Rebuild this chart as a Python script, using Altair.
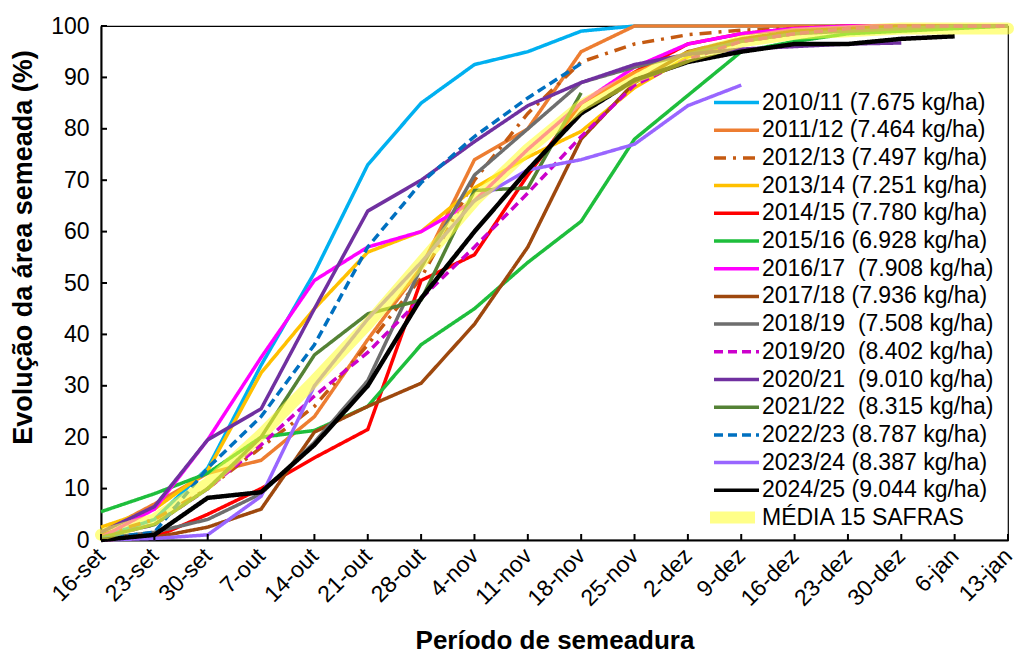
import altair as alt
import pandas as pd

# Semanas de semeadura (eixo X)
periodos = ["16-set", "23-set", "30-set", "7-out", "14-out", "21-out", "28-out",
            "4-nov", "11-nov", "18-nov", "25-nov", "2-dez", "9-dez", "16-dez",
            "23-dez", "30-dez", "6-jan", "13-jan"]

# Rótulos das safras (com produtividade média)
safras = ["2010/11 (7.675 kg/ha)", "2011/12 (7.464 kg/ha)", "2012/13 (7.497 kg/ha)",
          "2013/14 (7.251 kg/ha)", "2014/15 (7.780 kg/ha)", "2015/16 (6.928 kg/ha)",
          "2016/17\u00a0 (7.908 kg/ha)", "2017/18 (7.936 kg/ha)", "2018/19\u00a0 (7.508 kg/ha)",
          "2019/20\u00a0 (8.402 kg/ha)", "2020/21\u00a0 (9.010 kg/ha)", "2021/22\u00a0 (8.315 kg/ha)",
          "2022/23 (8.787 kg/ha)", "2023/24 (8.387 kg/ha)", "2024/25 (9.044 kg/ha)"]
rotulo_media = "MÉDIA 15 SAFRAS"

# Percentual acumulado da área semeada por safra (None = sem registro)
s2010_11 = [0.5, 4, 14, 34, 52, 73, 85, 92.5, 95, 99, 100, 100, 100, 100, 100, 100, 100, 100]
s2011_12 = [1.5, 7, 13, 15.5, 24, 39, 53, 74, 80, 95, 100, 100, 100, 100, 100, 100, 100, 100]
s2012_13 = [1, 4, 10, 18, 26, 38, 51, 70, 83, 93, 96.5, 98.3, 99.2, 99.5, 99.7, 99.8, 100, 100]
s2013_14 = [2.5, 6, 13.5, 32.5, 45, 56, 60, 68.5, 74.5, 79.5, 88, 94, 97, 98.5, 99.5, 100, 100, 100]
s2014_15 = [0, 0.5, 5, 10, 16, 21.5, 50.5, 55.5, 71, 85, 91, 96.5, 98.5, 99.5, 100, 100, 100, 100]
s2015_16 = [5.5, 9, 13, 20, 21.3, 26, 38, 45, 54, 62, 78, 86.5, 95, 97, 98.5, 99, 99.5, 100]
s2016_17 = [0.5, 6, 19.5, 35.5, 50.5, 57, 60, 66, 76, 85, 92, 96.5, 98.5, 99.5, 100, 100, 100, 100]
s2017_18 = [0, 0.5, 2.5, 6, 21, 26, 30.5, 42, 57, 78, 89, 95, 97.5, 99, 99.5, 100, 100, 100]
s2018_19 = [0.3, 1.5, 4, 9, 19, 31, 53, 71, 80, 89, 92, 94.5, 97, 98.5, 99, 99.5, 100, 100]
s2019_20 = [0.5, 3, 10, 18.5, 28, 36.5, 47, 57, 67.5, 78.5, 88.5, 93.5, 97, 98.5, 99.5, 100, 100, 100]
s2020_21 = [1.5, 6.5, 19.5, 25.5, 45, 64, 70, 77.5, 84.5, 89, 92.5, 94.5, 95.5, 96, 96.5, 96.7, None, None]
s2021_22 = [0.5, 3, 10, 20, 36, 44, 46.7, 68, 68.5, 87, None, None, None, None, None, None, None, None]
s2022_23 = [0.3, 1.5, 14, 24, 38, 57, 69.5, 78.5, 86, 92.7, None, None, None, None, None, None, None, None]
s2023_24 = [0, 0.3, 1, 8.5, 30, 43, 54, 66, 72, 74, 77, 84.5, 88.5, None, None, None, None, None]
s2024_25 = [0, 1, 8.2, 9.3, 18.5, 30, 47, 60, 72, 83, 89.5, 93, 95, 96.5, 96.5, 97.5, 98, None]
media_15 = [1, 4, 11, 20.5, 31, 42, 54, 66, 76, 84.5, 90, 94, 97, 98.5, 99, 99.5, 99.5, 99.5]

series = [s2010_11, s2011_12, s2012_13, s2013_14, s2014_15, s2015_16, s2016_17, s2017_18,
          s2018_19, s2019_20, s2020_21, s2021_22, s2022_23, s2023_24, s2024_25]

cores = ["#00B0F0", "#ED7D31", "#C55A11", "#FFC000", "#FF0000", "#1EBE3C", "#FF00FF",
         "#9E480E", "#6E6E6E", "#CC00CC", "#7030A0", "#548235", "#0070C0", "#9966FF",
         "#000000"]
tracos = [[1, 0], [1, 0], [12, 7, 3, 7], [1, 0], [1, 0], [1, 0], [1, 0], [1, 0], [1, 0],
          [9, 5], [1, 0], [1, 0], [9, 5], [1, 0], [1, 0]]
espessuras = [3.5] * 14 + [4.5]
cor_media = "#FFFF3A"

linhas = []
for nome, vals, esp in zip(safras, series, espessuras):
    for i, (p, v) in enumerate(zip(periodos, vals)):
        if v is not None:
            linhas.append({"safra": nome, "periodo": p, "ordem": i, "valor": v, "esp": esp})
df = pd.DataFrame(linhas)

df_media = pd.DataFrame({"rotulo": rotulo_media, "periodo": periodos,
                         "ordem": list(range(len(periodos))), "valor": media_15})

y_ticks = list(range(0, 101, 10))

FONTE = "Liberation Sans"
escala_x = alt.Scale(type="point", domain=periodos, padding=0)

x_enc = alt.X(
    "periodo:N", sort=periodos, scale=escala_x,
    title="Período de semeadura",
    axis=alt.Axis(labelAngle=-45, labelAlign="right", labelBaseline="middle",
                  labelFontSize=23, labelFont=FONTE, labelColor="#000",
                  ticks=False, labelPadding=12, domainColor="#000", domainWidth=2,
                  titleFontSize=26, titleFont=FONTE, titleFontWeight="bold", titleColor="#000",
                  titleY=100, titleBaseline="middle", labelOverlap=False),
)
y_enc = alt.Y(
    "valor:Q",
    scale=alt.Scale(domain=[0, 100], nice=False),
    title="Evolução da área semeada (%)",
    axis=alt.Axis(values=y_ticks, labelFontSize=23, labelFont=FONTE, labelColor="#000",
                  ticks=False, labelPadding=12, grid=False, domainColor="#000", domainWidth=2,
                  titleFontSize=27, titleFont=FONTE, titleFontWeight="bold", titleColor="#000",
                  titleX=-78, titleY=221, titleBaseline="middle", titleAlign="center"),
)

legenda_safras = alt.Legend(
    title=None, orient="none", legendX=611, legendY=64,
    symbolType="stroke", symbolSize=2025, symbolStrokeWidth=3.5,
    labelFontSize=23, labelFont=FONTE, labelColor="#000", labelOffset=1,
    labelLimit=400, rowPadding=2.7, padding=0, clipHeight=25,
)
legenda_media = alt.Legend(
    title=None, orient="none", legendX=603, legendY=479,
    symbolType="stroke", symbolSize=2025, symbolStrokeWidth=12, symbolOpacity=0.6,
    labelFontSize=23, labelFont=FONTE, labelColor="#000", labelOffset=1,
    labelLimit=400, padding=0, clipHeight=25,
)

safras_lyr = alt.Chart(df).mark_line().encode(
    x=x_enc, y=y_enc, order="ordem:Q",
    color=alt.Color("safra:N", sort=safras, scale=alt.Scale(domain=safras, range=cores),
                    legend=legenda_safras),
    strokeDash=alt.StrokeDash("safra:N", sort=safras, scale=alt.Scale(domain=safras, range=tracos),
                              legend=legenda_safras),
    strokeWidth=alt.StrokeWidth("esp:Q", scale=None, legend=None),
)

media_lyr = alt.Chart(df_media).mark_line(
    strokeWidth=12, opacity=0.6, strokeCap="round", strokeJoin="round"
).encode(
    x=x_enc, y=y_enc, order="ordem:Q",
    color=alt.Color("rotulo:N", scale=alt.Scale(domain=[rotulo_media], range=[cor_media]),
                    legend=legenda_media),
)

# marcas de escala voltadas para dentro da área do gráfico
yt = alt.Chart(pd.DataFrame({"v": y_ticks})).mark_rule(color="#000", strokeWidth=2).encode(
    y=alt.Y("v:Q"), x=alt.value(0), x2=alt.value(6))
xt = alt.Chart(pd.DataFrame({"periodo": periodos})).mark_rule(color="#000", strokeWidth=2).encode(
    x=alt.X("periodo:N", sort=periodos, scale=escala_x), y=alt.value(514), y2=alt.value(508))

chart = alt.layer(safras_lyr, media_lyr, yt, xt).resolve_scale(
    color="independent", strokeDash="independent"
).properties(
    width=907, height=514,
    autosize=alt.AutoSizeParams(type="none"),
    padding={"left": 101, "top": 26, "right": 8, "bottom": 113},
    background="white",
).configure_view(
    stroke="#000", strokeWidth=1.2
).configure_scale(
    pointPadding=0
)

chart.save("out.html", embed_options={"renderer": "svg", "actions": False})
